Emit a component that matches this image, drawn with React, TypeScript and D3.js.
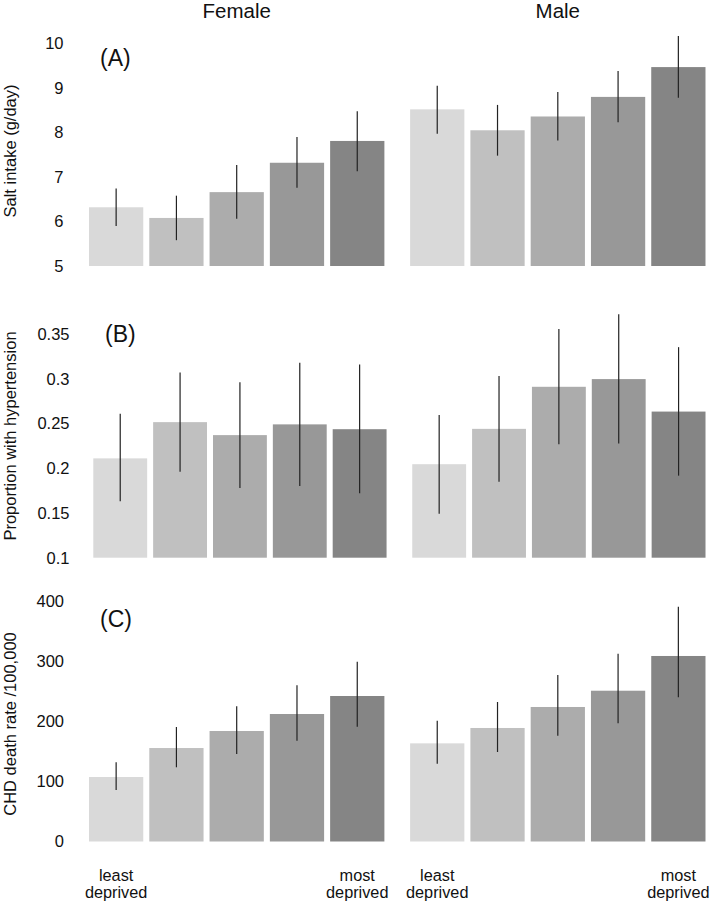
import React from "react";
import * as d3 from "d3";

const groups = ["1", "2", "3", "4", "5"];
const sexes = ["Female", "Male"];
const fills = ["#d9d9d9", "#c0c0c0", "#acacac", "#989898", "#858585"];

// Panel A: salt intake
const saltFemale = [6.32, 6.08, 6.66, 7.32, 7.81];
const saltFemaleLo = [5.9, 5.58, 6.06, 6.76, 7.13];
const saltFemaleHi = [6.74, 6.58, 7.27, 7.9, 8.48];
const saltMale = [8.52, 8.05, 8.36, 8.8, 9.47];
const saltMaleLo = [7.97, 7.48, 7.82, 8.23, 8.78];
const saltMaleHi = [9.05, 8.62, 8.91, 9.38, 10.17];
const saltTicks = [5, 6, 7, 8, 9, 10];

// Panel B: hypertension
const hypFemale = [0.211, 0.2515, 0.237, 0.249, 0.2436];
const hypFemaleLo = [0.163, 0.196, 0.178, 0.18, 0.172];
const hypFemaleHi = [0.261, 0.307, 0.296, 0.318, 0.316];
const hypMale = [0.2045, 0.244, 0.291, 0.2996, 0.2633];
const hypMaleLo = [0.149, 0.185, 0.2268, 0.2275, 0.1917];
const hypMaleHi = [0.2596, 0.303, 0.3555, 0.372, 0.3353];
const hypTicks = [0.1, 0.15, 0.2, 0.25, 0.3, 0.35];

// Panel C: CHD death rate
const chdFemale = [107.5, 155.8, 184.2, 212.5, 242.5];
const chdFemaleLo = [85.8, 123.7, 145.8, 168, 191.3];
const chdFemaleHi = [132, 190.8, 225.3, 260.3, 299.7];
const chdMale = [163.6, 189.2, 224.2, 251.3, 309.2];
const chdMaleLo = [129.7, 149.2, 176.3, 197, 240.3];
const chdMaleHi = [201.3, 232.5, 277.5, 313, 391.3];
const chdTicks = [0, 100, 200, 300, 400];

const FONT = "'Liberation Sans', Arial, Helvetica, sans-serif";

type Panel = {
  label: string;
  title: string;
  domain: [number, number];
  yRange: [number, number];
  ticks: number[];
  fmt: (v: number) => string;
  left: number;
  tickRight: number;
  titleY: number;
  labelPos: [number, number];
  series: { v: number[]; lo: number[]; hi: number[] }[];
};

const panels: Panel[] = [
  {
    label: "(A)",
    title: "Salt intake (g/day)",
    domain: [5, 10],
    yRange: [266, 43.5],
    ticks: saltTicks,
    fmt: (v) => String(v),
    left: 86,
    tickRight: 63.5,
    titleY: 151,
    labelPos: [100, 65.5],
    series: [
      { v: saltFemale, lo: saltFemaleLo, hi: saltFemaleHi },
      { v: saltMale, lo: saltMaleLo, hi: saltMaleHi },
    ],
  },
  {
    label: "(B)",
    title: "Proportion with hypertension",
    domain: [0.1, 0.35],
    yRange: [557.7, 334],
    ticks: hypTicks,
    fmt: (v) => String(+v.toFixed(2)),
    left: 90.3,
    tickRight: 69.5,
    titleY: 436,
    labelPos: [105, 342],
    series: [
      { v: hypFemale, lo: hypFemaleLo, hi: hypFemaleHi },
      { v: hypMale, lo: hypMaleLo, hi: hypMaleHi },
    ],
  },
  {
    label: "(C)",
    title: "CHD death rate /100,000",
    domain: [0, 400],
    yRange: [841.5, 601.5],
    ticks: chdTicks,
    fmt: (v) => String(v),
    left: 86,
    tickRight: 64,
    titleY: 724,
    labelPos: [100, 627],
    series: [
      { v: chdFemale, lo: chdFemaleLo, hi: chdFemaleHi },
      { v: chdMale, lo: chdMaleLo, hi: chdMaleHi },
    ],
  },
];

const RIGHT = 708.5;
const GAP = 19.7;

function xScales(left: number) {
  const w = (RIGHT - left - GAP) / 2;
  return [0, 1].map((i) =>
    d3
      .scaleBand<string>()
      .domain(groups)
      .range([left + i * (w + GAP), left + i * (w + GAP) + w])
      .paddingInner(0.1)
      .paddingOuter(0.05)
  );
}

export default function App() {
  const topX = xScales(panels[0].left);
  const botX = xScales(panels[2].left);
  return (
    <svg
      width={712}
      height={904}
      style={{ position: "absolute", left: 0, top: 0, background: "#fff" }}
      fontFamily={FONT}
    >
      {sexes.map((s, i) => {
        const xs = topX[i];
        const r = xs.range();
        return (
          <text
            key={s}
            x={(r[0] + r[1]) / 2}
            y={17.5}
            textAnchor="middle"
            fontSize={20.5}
            fill="#111"
          >
            {s}
          </text>
        );
      })}
      {panels.map((p) => {
        const y = d3.scaleLinear().domain(p.domain).range(p.yRange);
        const xs = xScales(p.left);
        return (
          <g key={p.label}>
            {p.ticks.map((t) => (
              <text
                key={t}
                x={p.tickRight}
                y={y(t)}
                dy="0.36em"
                textAnchor="end"
                fontSize={16.5}
                fill="#111"
              >
                {p.fmt(t)}
              </text>
            ))}
            <text
              transform={`translate(${15.5},${p.titleY}) rotate(-90)`}
              textAnchor="middle"
              fontSize={16.5}
              fill="#111"
            >
              {p.title}
            </text>
            {p.series.map((ser, si) => (
              <g key={si}>
                {groups.map((g, gi) => {
                  const x0 = xs[si](g)!;
                  const bw = xs[si].bandwidth();
                  return (
                    <g key={g}>
                      <rect
                        x={x0}
                        y={y(ser.v[gi])}
                        width={bw}
                        height={y(p.domain[0]) - y(ser.v[gi])}
                        fill={fills[gi]}
                      />
                      <line
                        x1={x0 + bw / 2}
                        x2={x0 + bw / 2}
                        y1={y(ser.lo[gi])}
                        y2={y(ser.hi[gi])}
                        stroke="#222"
                        strokeWidth={1.2}
                      />
                    </g>
                  );
                })}
              </g>
            ))}
            <text
              x={p.labelPos[0]}
              y={p.labelPos[1]}
              fontSize={23}
              fill="#111"
            >
              {p.label}
            </text>
          </g>
        );
      })}
      {[0, 1].map((si) =>
        [
          { g: "1", a: "least", b: "deprived" },
          { g: "5", a: "most", b: "deprived" },
        ].map((l) => {
          const cx = botX[si](l.g)! + botX[si].bandwidth() / 2;
          return (
            <text
              key={si + l.g}
              x={cx}
              textAnchor="middle"
              fontSize={16.3}
              fill="#111"
            >
              <tspan x={cx} y={881}>
                {l.a}
              </tspan>
              <tspan x={cx} y={898}>
                {l.b}
              </tspan>
            </text>
          );
        })
      )}
    </svg>
  );
}
